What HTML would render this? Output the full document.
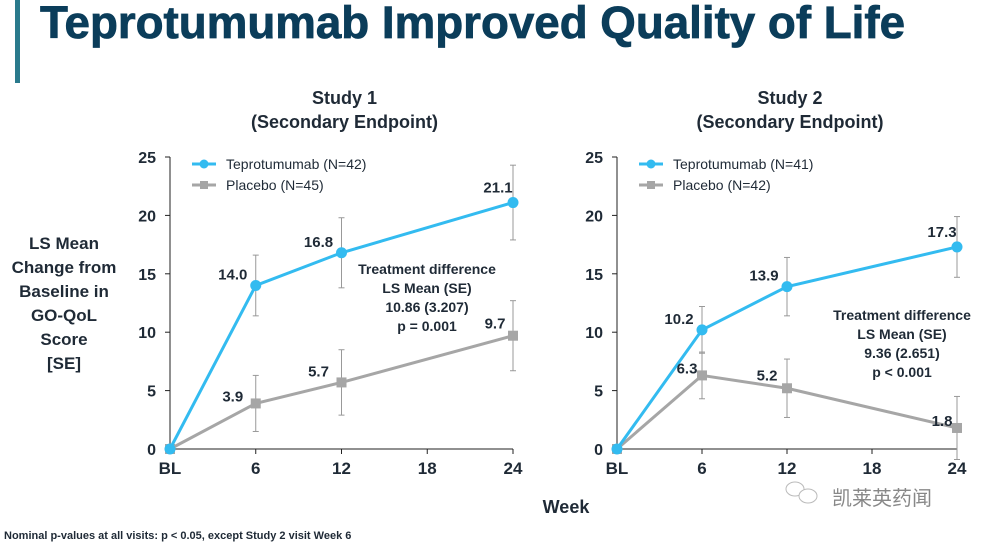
<!DOCTYPE html>
<html><head><meta charset="utf-8"><style>
body{margin:0;width:984px;height:543px;background:#fff;overflow:hidden;font-family:"Liberation Sans","Noto Sans CJK SC",sans-serif;}
svg text{font-family:"Liberation Sans","Noto Sans CJK SC",sans-serif;}
</style></head><body>
<svg id="s" width="984" height="543">
<rect x="15" y="0" width="5" height="83" fill="#2a7a8c"/>
<text x="40" y="38" font-size="45" font-weight="bold" fill="#0b3d5a" stroke="#0b3d5a" stroke-width="0.8" textLength="865" lengthAdjust="spacingAndGlyphs">Teprotumumab Improved Quality of Life</text>
<g fill="#1f2a36" font-weight="bold" font-size="17" text-anchor="middle">
<text x="64" y="249">LS Mean</text><text x="64" y="273">Change from</text><text x="64" y="297">Baseline in</text><text x="64" y="321">GO-QoL</text><text x="64" y="345">Score</text><text x="64" y="369">[SE]</text>
</g>
<text x="566" y="513" font-size="18" font-weight="bold" fill="#1f2a36" text-anchor="middle">Week</text>
<text x="4" y="539" font-size="11" font-weight="bold" fill="#1f2a36">Nominal p-values at all visits:  p &lt; 0.05, except Study 2 visit Week 6</text>
<g>
<ellipse cx="795" cy="489" rx="9" ry="7" fill="none" stroke="#bbb"/><ellipse cx="808" cy="496" rx="9" ry="7" fill="#fff" stroke="#bbb"/>
<text x="832" y="505" font-size="20" fill="#888">凯莱英药闻</text></g>
<g id="c1"></g><g id="c2"></g>
</svg>
<script>
const weeks=[0,6,12,24];
const xTicks=["BL","6","12","18","24"];
const yTicks=[0,5,10,15,20,25];
const s1Tep=[0,14.0,16.8,21.1], s1TepSE=[0,2.6,3.0,3.2];
const s1Pla=[0,3.9,5.7,9.7], s1PlaSE=[0,2.4,2.8,3.0];
const s2Tep=[0,10.2,13.9,17.3], s2TepSE=[0,2.0,2.5,2.6];
const s2Pla=[0,6.3,5.2,1.8], s2PlaSE=[0,2.0,2.5,2.7];
const NS="http://www.w3.org/2000/svg";
function mk(p,t,a,txt){const e=document.createElementNS(NS,t);for(const k in a)e.setAttribute(k,a[k]);if(txt!=null)e.textContent=txt;p.appendChild(e);return e;}
function chart(g,x0,x1,tep,tepSE,pla,plaSE,title,nT,nP,diff,pv,anX,anY,lblOff){
 const y0=449,yTop=157;
 const X=w=>x0+(x1-x0)*w/24, Y=v=>y0-(y0-yTop)*v/25;
 const cx=(x0+x1)/2+3;
 let t=mk(g,'text',{x:cx,y:104,'font-size':18,'font-weight':'bold',fill:'#1f2a36','text-anchor':'middle'},title);
 
 
 t=mk(g,'text',{x:cx,y:128,'font-size':18,'font-weight':'bold',fill:'#1f2a36','text-anchor':'middle'},'(Secondary Endpoint)');
 
 
 let ax=mk(g,'line',{x1:x0,y1:Y(25),x2:x0,y2:y0,stroke:'#222','stroke-width':1});
 
 
 ax=mk(g,'line',{x1:x0,y1:y0,x2:X(24),y2:y0,stroke:'#222','stroke-width':1});
 
 
 yTicks.forEach(v=>{mk(g,'line',{x1:x0-5,y1:Y(v),x2:x0,y2:Y(v),stroke:'#222'});
  const l=mk(g,'text',{x:x0-14,y:Y(v)+6,'font-size':16,'font-weight':'bold',fill:'#1f2a36','text-anchor':'end'},v);
  
  });
 xTicks.forEach((lab,i)=>{const xx=X(i*6);mk(g,'line',{x1:xx,y1:y0,x2:xx,y2:y0+5,stroke:'#222'});
  const l=mk(g,'text',{x:xx,y:y0+25,'font-size':17,'font-weight':'bold',fill:'#1f2a36','text-anchor':'middle'},lab);
  
  });
 function series(vals,se,col,sq,name){
  const sg=mk(g,'g',{});
  
  
  vals.forEach((v,i)=>{if(!se[i])return;const xx=X(weeks[i]);
   mk(sg,'line',{x1:xx,y1:Y(v-se[i]),x2:xx,y2:Y(v+se[i]),stroke:'#999','stroke-width':1});
   mk(sg,'line',{x1:xx-3,y1:Y(v-se[i]),x2:xx+3,y2:Y(v-se[i]),stroke:'#999'});
   mk(sg,'line',{x1:xx-3,y1:Y(v+se[i]),x2:xx+3,y2:Y(v+se[i]),stroke:'#999'});});
  mk(sg,'polyline',{points:vals.map((v,i)=>X(weeks[i])+','+Y(v)).join(' '),fill:'none',stroke:col,'stroke-width':3});
  vals.forEach((v,i)=>{const xx=X(weeks[i]),yy=Y(v);let m;
   if(sq)m=mk(sg,'rect',{x:xx-5,y:yy-5,width:10,height:10,fill:col});else m=mk(sg,'circle',{cx:xx,cy:yy,r:5.5,fill:col});
   
   });
 }
 series(pla,plaSE,'#a6a6a6',true,'placebo');
 series(tep,tepSE,'#33bbf0',false,'teprotumumab');
 function labels(vals,offs){vals.forEach((v,i)=>{if(i==0)return;const o=offs[i];
  const l=mk(g,'text',{x:X(weeks[i])+o[0],y:Y(v)+o[1],'font-size':15,'font-weight':'bold',fill:'#1f2a36','text-anchor':'middle'},v.toFixed(1));
  
  });}
 labels(tep,lblOff[0]);labels(pla,lblOff[1]);
 const lx=x0+22;
 [['#33bbf0',false,nT,Y(25)+7],['#a6a6a6',true,nP,Y(25)+28]].forEach(([c,sq,txt,yy])=>{
  const lg=mk(g,'g',{});
  
  
  mk(lg,'line',{x1:lx,y1:yy,x2:lx+24,y2:yy,stroke:c,'stroke-width':3});
  if(sq)mk(lg,'rect',{x:lx+8,y:yy-4,width:8,height:8,fill:c});else mk(lg,'circle',{cx:lx+12,cy:yy,r:4.5,fill:c});
  mk(lg,'text',{x:lx+34,y:yy+5,'font-size':14,fill:'#1f2a36'},txt);});
 const ag=mk(g,'g',{'font-size':14,'font-weight':'bold',fill:'#1f2a36','text-anchor':'middle'});
 
 
 ['Treatment difference','LS Mean (SE)',diff,pv].forEach((s,i)=>mk(ag,'text',{x:anX,y:anY+i*19},s));
}
chart(document.getElementById('c1'),170,513,s1Tep,s1TepSE,s1Pla,s1PlaSE,'Study 1','Teprotumumab (N=42)','Placebo (N=45)','10.86 (3.207)','p = 0.001',427,274,
 [[0,[-23,-6],[-23,-6],[-15,-10]],[0,[-23,-2],[-23,-6],[-18,-7]]]);
chart(document.getElementById('c2'),617,957,s2Tep,s2TepSE,s2Pla,s2PlaSE,'Study 2','Teprotumumab (N=41)','Placebo (N=42)','9.36 (2.651)','p < 0.001',902,320,
 [[0,[-23,-6],[-23,-6],[-15,-10]],[0,[-15,-2],[-20,-8],[-15,-2]]]);
</script>
</body></html>
